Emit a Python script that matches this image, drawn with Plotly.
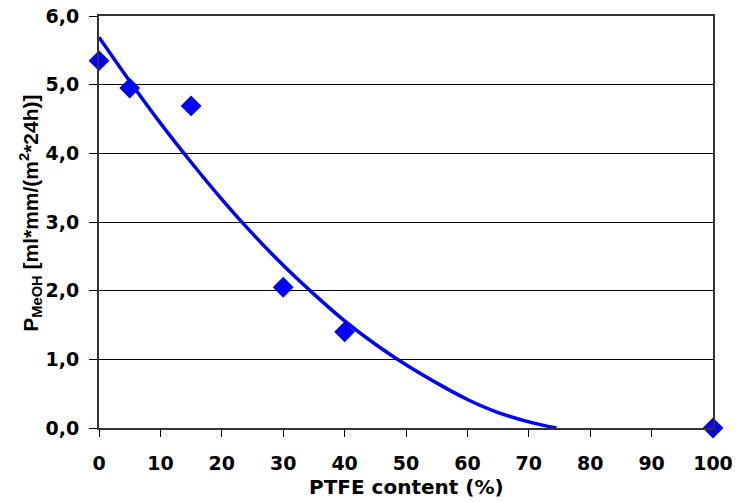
import plotly.graph_objects as go

# measured data points
ptfe = [0, 5, 15, 30, 40, 100]
p_meoh = [5.35, 4.95, 4.69, 2.05, 1.40, 0.0]

# trendline
trend_x = [0, 5, 10, 15, 20, 25, 30, 35, 40, 45, 50, 55, 60, 65, 70, 74.5]
trend_y = [5.69, 5.05, 4.44, 3.87, 3.33, 2.83, 2.37, 1.95, 1.56, 1.22, 0.92, 0.655, 0.415, 0.225, 0.09, 0.0]

x_ticks = [0, 10, 20, 30, 40, 50, 60, 70, 80, 90, 100]
y_ticks = [0, 1, 2, 3, 4, 5, 6]

HFONT = "DejaVu Sans, Arial, sans-serif"
VFONT = "Liberation Sans, Arial, sans-serif"

fig = go.Figure()
fig.add_trace(go.Scatter(
    x=trend_x, y=trend_y, mode="lines",
    line=dict(color="#0000FF", width=3.5, shape="spline"),
    hoverinfo="skip", showlegend=False,
))
fig.add_trace(go.Scatter(
    x=ptfe, y=p_meoh, mode="markers",
    marker=dict(symbol="diamond", size=16, color="#0000FF", line=dict(width=0)),
    showlegend=False, cliponaxis=False,
))

# page body adds an 8px offset, so the figure is sized to fit the window
fig.update_layout(
    width=732, height=494,
    margin=dict(l=91, r=27, t=8, b=74, autoexpand=False),
    paper_bgcolor="white", plot_bgcolor="white",
    separators=",.",
    font=dict(family=HFONT, size=19, color="black"),
    showlegend=False,
)
fig.update_xaxes(
    range=[0, 100], tickvals=x_ticks, ticks="outside", ticklen=7, tickwidth=1,
    tickcolor="black", showline=True, linecolor="#333333", linewidth=2, mirror=True,
    showgrid=False, zeroline=False, automargin=False,
    tickfont=dict(family=HFONT, size=19, color="black", weight="bold"),
    ticklabelstandoff=10, ticklabeloverflow="allow",
)
fig.update_yaxes(
    range=[0, 6], tickvals=y_ticks, tickformat=".1f", ticks="outside", ticklen=8, tickwidth=1,
    tickcolor="black", showline=True, linecolor="#333333", linewidth=2, mirror=True,
    showgrid=True, gridcolor="black", gridwidth=1, zeroline=False, automargin=False,
    tickfont=dict(family=HFONT, size=19, color="black", weight="bold"),
    ticklabelstandoff=6, ticklabeloverflow="allow",
)

fig.add_annotation(
    text="<b>PTFE content (%)</b>", xref="paper", yref="paper",
    x=0.5, y=-0.143, yanchor="middle", xanchor="center", showarrow=False,
    font=dict(family=HFONT, size=20, color="black"),
)
fig.add_annotation(
    text="<b>P<sub>MeOH</sub> [ml*mm/(m<sup>2</sup>*24h)]</b>", xref="paper", yref="paper",
    x=-0.111, y=0.522, xanchor="center", yanchor="middle", textangle=-90, showarrow=False,
    font=dict(family=VFONT, size=21, color="black"),
)

fig.write_html("out.html")
